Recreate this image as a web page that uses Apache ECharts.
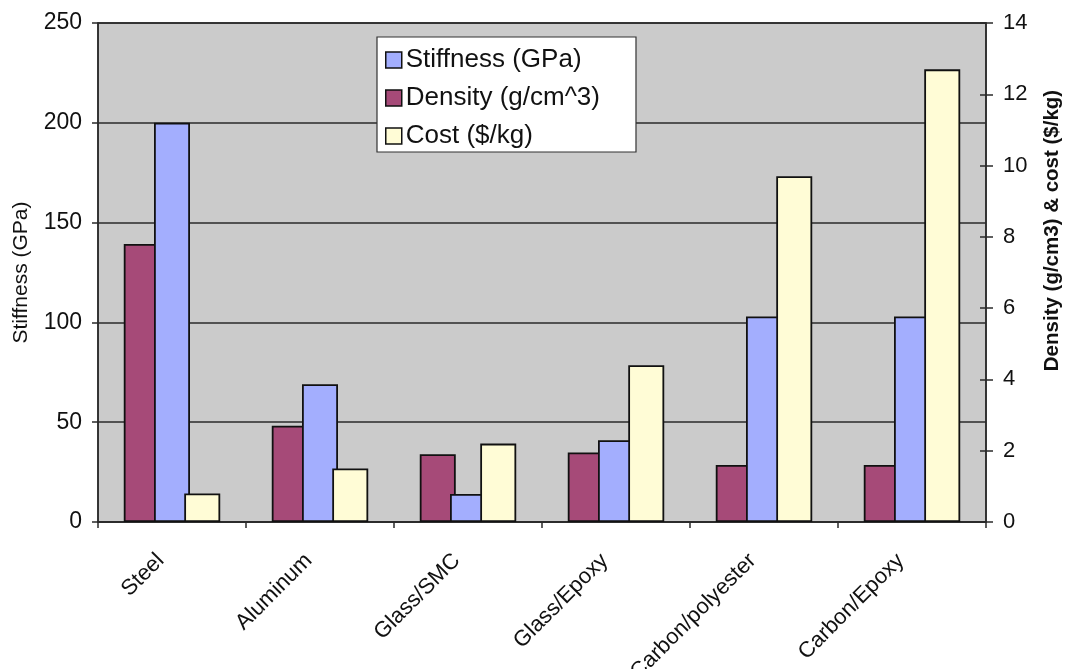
<!DOCTYPE html>
<html>
<head>
<meta charset="utf-8">
<title>Material properties</title>
<script src="https://cdn.jsdelivr.net/npm/echarts@6/dist/echarts.min.js"></script>
<style>
  html, body { margin: 0; padding: 0; background: #ffffff; }
  #chart { width: 1065px; height: 669px; }
</style>
</head>
<body>
<div id="chart"></div>
<script>
// Materials compared
const categories = ['Steel', 'Aluminum', 'Glass/SMC', 'Glass/Epoxy', 'Carbon/polyester', 'Carbon/Epoxy'];

// Stiffness in GPa (left axis)
const stiffness = [200, 69, 14, 41, 103, 103];
// Density in g/cm^3 (right axis)
const density = [7.8, 2.7, 1.9, 1.95, 1.6, 1.6];
// Cost in $/kg (right axis)
const cost = [0.8, 1.5, 2.2, 4.4, 9.7, 12.7];

// Axis tick values
const leftTicks = [0, 50, 100, 150, 200, 250];
const rightTicks = [0, 2, 4, 6, 8, 10, 12, 14];

const FONT = '"Liberation Sans", Arial, Helvetica, sans-serif';
const INK = '#111111';
const LINE = '#2a2a2a';
const border = { borderColor: '#111111', borderWidth: 1.8 };

const chart = echarts.init(document.getElementById('chart'), null, { renderer: 'canvas' });

chart.setOption({
  animation: false,
  backgroundColor: '#ffffff',
  textStyle: { fontFamily: FONT },
  grid: {
    left: 98, right: 79, top: 23, bottom: 147,
    outerBoundsMode: 'none',
    containLabel: false,
    show: true,
    backgroundColor: '#cbcbcb',
    borderColor: LINE,
    borderWidth: 1.5
  },
  legend: {
    orient: 'vertical',
    left: 377, top: 37,
    data: ['Stiffness (GPa)', 'Density (g/cm^3)', 'Cost ($/kg)'],
    backgroundColor: '#ffffff',
    borderColor: '#333333',
    borderWidth: 1.2,
    borderRadius: 0,
    padding: [9, 36, 2, 8],
    itemGap: 10,
    itemWidth: 16,
    itemHeight: 16,
    icon: 'rect',
    itemStyle: { borderColor: '#111111', borderWidth: 1.5 },
    textStyle: { fontFamily: FONT, fontSize: 26, color: INK, lineHeight: 28, padding: [0, 0, 0, -1] }
  },
  xAxis: {
    type: 'category',
    data: categories,
    boundaryGap: true,
    axisLine: { lineStyle: { color: LINE, width: 1.5 } },
    axisTick: { show: true, length: 6, inside: false, alignWithLabel: false, lineStyle: { color: LINE, width: 1.5 } },
    axisLabel: {
      rotate: 45,
      interval: 0,
      margin: 24,
      padding: [0, 16, 0, 0],
      fontFamily: FONT,
      fontSize: 22,
      color: INK
    }
  },
  yAxis: [
    {
      type: 'value',
      min: 0, max: 250, interval: 50,
      name: 'Stiffness (GPa)',
      nameLocation: 'middle',
      nameRotate: 90,
      nameGap: 66,
      nameTextStyle: { fontFamily: FONT, fontSize: 21, color: INK },
      axisLine: { show: true, lineStyle: { color: LINE, width: 1.5 } },
      axisTick: { show: true, length: 6, lineStyle: { color: LINE, width: 1.5 } },
      axisLabel: {
        margin: 16,
        fontFamily: FONT,
        fontSize: 23,
        color: INK,
        formatter: v => (leftTicks.indexOf(v) >= 0 ? String(v) : '')
      },
      splitLine: { show: true, lineStyle: { color: LINE, width: 1.5 } }
    },
    {
      type: 'value',
      position: 'right',
      min: 0, max: 14, interval: 2,
      name: 'Density (g/cm3) & cost ($/kg)',
      nameLocation: 'middle',
      nameRotate: 90,
      nameGap: 56,
      nameTextStyle: { fontFamily: FONT, fontSize: 20.5, fontWeight: 'bold', color: INK, padding: [0, 0, 0, 84] },
      axisLine: { show: true, lineStyle: { color: LINE, width: 1.5 } },
      axisTick: { show: true, length: 7, lineStyle: { color: LINE, width: 1.5 } },
      axisLabel: {
        margin: 17,
        fontFamily: FONT,
        fontSize: 22,
        color: INK,
        formatter: v => (rightTicks.indexOf(v) >= 0 ? String(v) : '')
      },
      splitLine: { show: false }
    },
    {
      // short inner tick marks so the right-hand ticks cross the axis line
      type: 'value',
      position: 'right',
      min: 0, max: 14, interval: 2,
      axisLine: { show: false },
      axisTick: { show: true, inside: true, length: 6, lineStyle: { color: LINE, width: 1.5 } },
      axisLabel: { show: false },
      splitLine: { show: false }
    }
  ],
  series: [
    {
      name: 'Density (g/cm^3)',
      type: 'bar',
      yAxisIndex: 1,
      data: density,
      barWidth: 36,
      barGap: '-16%',
      itemStyle: Object.assign({ color: '#a64a78' }, border)
    },
    {
      name: 'Stiffness (GPa)',
      type: 'bar',
      yAxisIndex: 0,
      data: stiffness,
      barWidth: 36,
      barGap: '-16%',
      itemStyle: Object.assign({ color: '#a3aefe' }, border)
    },
    {
      name: 'Cost ($/kg)',
      type: 'bar',
      yAxisIndex: 1,
      data: cost,
      barWidth: 36,
      barGap: '-16%',
      itemStyle: Object.assign({ color: '#fffcd6' }, border)
    }
  ]
});
</script>
</body>
</html>
